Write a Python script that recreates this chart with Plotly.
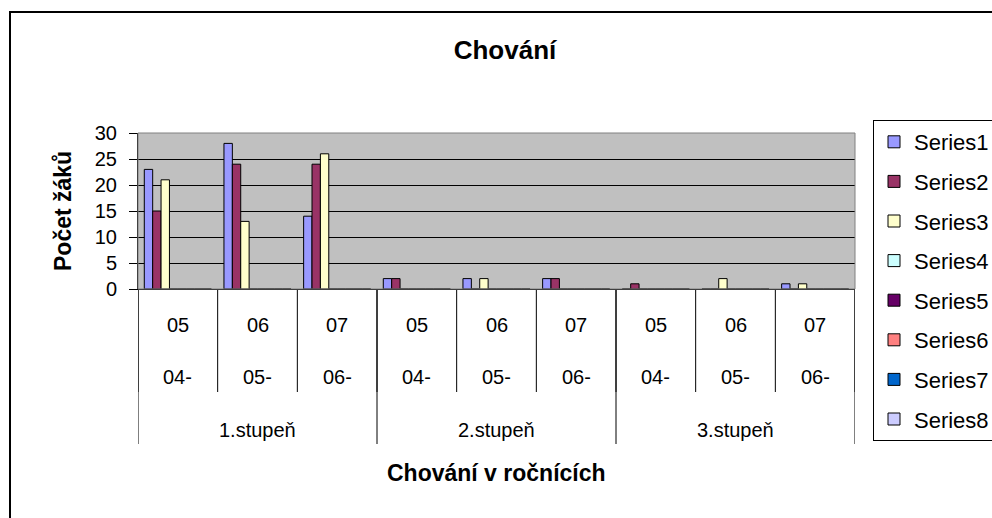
import plotly.graph_objects as go

# ---- data ----
stages = ["1.stupeň", "2.stupeň", "3.stupeň"]
year_top = ["05", "06", "07"]
year_bottom = ["04-", "05-", "06-"]
series_names = ["Series1", "Series2", "Series3", "Series4",
                "Series5", "Series6", "Series7", "Series8"]
series1 = [23, 28, 14, 2, 2, 2, 0, 0, 1]
series2 = [15, 24, 24, 2, 0, 2, 1, 0, 0]
series3 = [21, 13, 26, 0, 2, 0, 0, 2, 1]
series4 = [0, 0, 0, 0, 0, 0, 0, 0, 0]
series5 = [0, 0, 0, 0, 0, 0, 0, 0, 0]
series6 = [0, 0, 0, 0, 0, 0, 0, 0, 0]
series7 = [0, 0, 0, 0, 0, 0, 0, 0, 0]
series8 = [0, 0, 0, 0, 0, 0, 0, 0, 0]
y_ticks = [0, 5, 10, 15, 20, 25, 30]

series_values = [series1, series2, series3, series4,
                 series5, series6, series7, series8]
colors = ["#9999FF", "#993366", "#FFFFCC", "#CCFFFF",
          "#660066", "#FF8080", "#0066CC", "#CCCCFF"]

n_cat = len(stages) * len(year_top)
xpos = list(range(n_cat))

W, H = 992, 518
L, R, T, B = 138, 855, 133, 289
FONT = "Arial, Liberation Sans, sans-serif"
LBL = 20


def px_x(px):
    return (px - L) / (R - L)


def px_y(py):
    return (B - py) / (B - T)


fig = go.Figure()
for name, vals, col in zip(series_names, series_values, colors):
    fig.add_trace(go.Bar(
        x=xpos, y=vals, name=name, legendgroup=name,
        marker=dict(color=col, line=dict(color="black", width=1)),
    ))

shapes = []
annotations = []
# inner separators
for k in range(n_cat + 1):
    shapes.append(dict(type="line", xref="x", yref="paper",
                       x0=k - 0.5, x1=k - 0.5, y0=0, y1=px_y(392),
                       line=dict(color="black", width=1)))
# outer separators
for g in range(len(stages) + 1):
    xs = g * len(year_top) - 0.5
    shapes.append(dict(type="line", xref="x", yref="paper",
                       x0=xs, x1=xs, y0=0, y1=px_y(444),
                       line=dict(color="black", width=1)))
# labels
for g, st in enumerate(stages):
    for j in range(len(year_top)):
        idx = g * len(year_top) + j
        annotations.append(dict(x=idx, y=px_y(325), xref="x", yref="paper",
                                text=year_top[j], showarrow=False,
                                xanchor="center", yanchor="middle",
                                font=dict(size=LBL, color="black", family=FONT)))
        annotations.append(dict(x=idx, y=px_y(377), xref="x", yref="paper",
                                text=year_bottom[j], showarrow=False,
                                xanchor="center", yanchor="middle",
                                font=dict(size=LBL, color="black", family=FONT)))
    annotations.append(dict(x=g * len(year_top) + (len(year_top) - 1) / 2,
                            y=px_y(430), xref="x", yref="paper",
                            text=st, showarrow=False,
                            xanchor="center", yanchor="middle",
                            font=dict(size=LBL, color="black", family=FONT)))
# axis titles
annotations.append(dict(x=0.5, y=px_y(473), xref="paper", yref="paper",
                        text="<b>Chování v ročnících</b>", showarrow=False,
                        xanchor="center", yanchor="middle",
                        font=dict(size=23, color="black", family=FONT)))
annotations.append(dict(x=px_x(63), y=0.5, xref="paper", yref="paper",
                        text="<b>Počet žáků</b>", textangle=-90, showarrow=False,
                        xanchor="center", yanchor="middle",
                        font=dict(size=23, color="black", family=FONT)))
# plot area border
shapes.append(dict(type="rect", xref="paper", yref="paper", x0=0, x1=1, y0=0, y1=1,
                   line=dict(color="#808080", width=1)))
# chart area border
shapes.append(dict(type="rect", xref="paper", yref="paper",
                   x0=px_x(10), x1=px_x(1010), y0=px_y(530), y1=px_y(12),
                   line=dict(color="black", width=2)))

fig.update_layout(
    width=W, height=H,
    margin=dict(l=L, r=W - R, t=T, b=H - B, pad=0),
    paper_bgcolor="white", plot_bgcolor="#C0C0C0",
    barmode="group", bargap=0.158, bargroupgap=0,
    font=dict(family=FONT, color="black"),
    title=dict(text="<b>Chování</b>", x=505 / W, xanchor="center",
               y=1 - 50 / H, yanchor="middle",
               font=dict(size=26, color="black", family=FONT)),
    xaxis=dict(range=[-0.5, n_cat - 0.5], showticklabels=False, ticks="",
               showgrid=False, zeroline=False, showline=True,
               linecolor="black", linewidth=1, fixedrange=True),
    yaxis=dict(range=[0, 30], tickvals=y_ticks, ticks="outside", ticklen=8,
               tickcolor="black", showgrid=True, gridcolor="black", gridwidth=1,
               zeroline=False, showline=True, linecolor="black", linewidth=1,
               ticklabelstandoff=8,
               tickfont=dict(size=LBL, color="black", family=FONT)),
    legend=dict(x=873 / W, xref="container", xanchor="left",
                y=1 - 120 / H, yref="container", yanchor="top",
                maxheight=1, entrywidth=95, itemwidth=30,
                bgcolor="white", bordercolor="black", borderwidth=1,
                font=dict(size=22, color="black", family=FONT),
                tracegroupgap=8, traceorder="grouped"),
    shapes=shapes, annotations=annotations,
)

fig.write_html("out.html", config={"displayModeBar": False},
               post_script="document.body.style.margin='0';")
